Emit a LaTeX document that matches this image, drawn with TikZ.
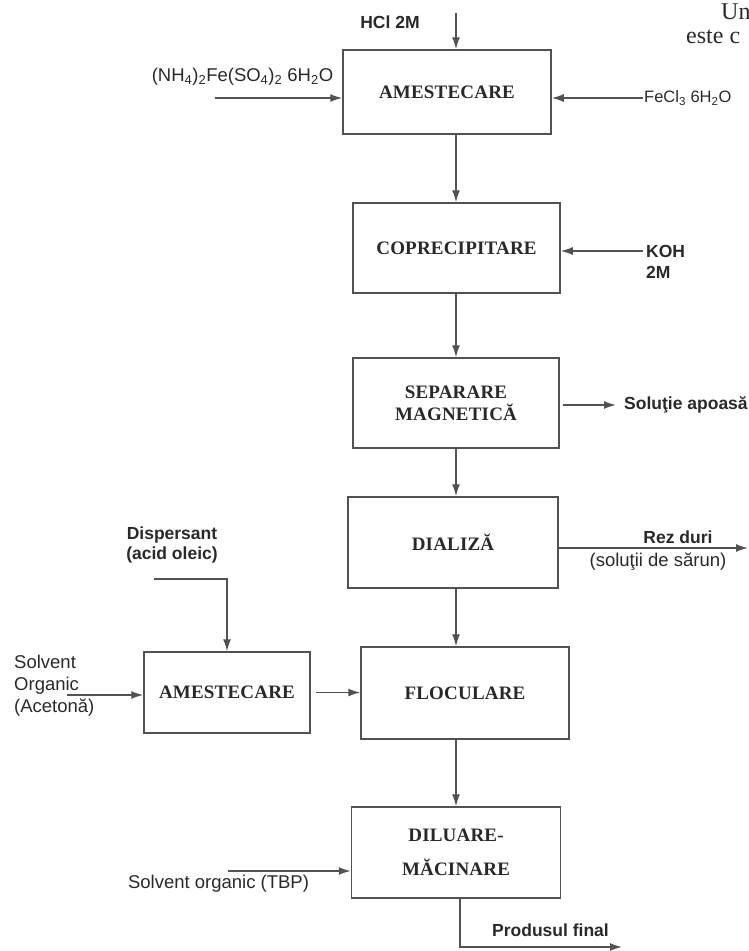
\documentclass[tikz,border=0pt]{standalone}
\usepackage{fontspec}
\setmainfont{Liberation Serif}
\setsansfont{Liberation Sans}
\newfontfamily\boxfont{Liberation Serif}[LetterSpace=1]
\usetikzlibrary{arrows.meta}
\definecolor{ink}{gray}{0.32}
\definecolor{txt}{gray}{0.16}
\tikzset{
  stage/.style={draw=ink,line width=1.5pt,fill=white,inner sep=0pt,align=center,text=txt,font=\fontsize{19}{22}\selectfont\boxfont\bfseries},
  lbl/.style={inner sep=1pt,text=txt,font=\fontsize{18.5}{22}\selectfont\sffamily},
  lblb/.style={inner sep=1pt,text=txt,font=\fontsize{17.5}{21}\selectfont\sffamily\bfseries},
  flow/.style={draw=ink,line width=1.4pt,-{Latex[length=12pt,width=8pt]}}
}

\begin{document}
\begin{tikzpicture}[x=1pt,y=-1pt]
      \useasboundingbox (0,0) rectangle (749,951);

      \node[stage,minimum width=208pt,minimum height=84pt] (mix) at (447,92) {AMESTECARE};
      \node[stage,minimum width=207pt,minimum height=90pt] (coprec) at (456.5,248) {COPRECIPITARE};
      \node[stage,minimum width=206pt,minimum height=90pt] (sep) at (456,403) {SEPARARE\\MAGNETICĂ};
      \node[stage,minimum width=210pt,minimum height=91pt] (dial) at (453,542.5) {DIALIZĂ};
      \node[stage,minimum width=166pt,minimum height=81pt] (premix) at (227,692.5) {AMESTECARE};
      \node[stage,minimum width=208pt,minimum height=92pt] (floc) at (465,693) {FLOCULARE};
      \node[stage,minimum width=209pt,minimum height=91pt] (dil) at (456,852.5) {DILUARE-\\[12pt]MĂCINARE};

      \node[lblb] (hcl) at (390,22) {HCl 2M};
      \node[lbl] (nhfe) at (242.5,77) {(NH\textsubscript{4})\textsubscript{2}Fe(SO\textsubscript{4})\textsubscript{2} 6H\textsubscript{2}O};
      \node[lbl,anchor=west,font=\fontsize{16.5}{20}\selectfont\sffamily] (fecl) at (643,98) {FeCl\textsubscript{3} 6H\textsubscript{2}O};
      \node[lblb,anchor=west,align=left] (koh) at (645,262) {KOH\\2M};
      \node[lblb,anchor=west] (sol) at (623,405) {Soluţie apoasă};
      \node[lblb] (rez) at (678,537) {Rez duri};
      \node[lbl] (rezb) at (658,562) {(soluţii de sărun)};
      \node[lblb,align=center,font=\fontsize{17.5}{20}\selectfont\sffamily\bfseries] (disp) at (172,545) {Dispersant\\(acid oleic)};
      \node[lbl,anchor=west,align=left] (solv) at (13,686) {Solvent\\Organic\\(Acetonă)};
      \node[lbl] (tbp) at (218.5,884) {Solvent organic (TBP)};
      \node[lblb] (prod) at (550.5,930) {Produsul final};
      \node[anchor=base west,inner sep=0pt,text=txt,font=\fontsize{24}{28}\selectfont] (un) at (721,19) {Un};
      \node[anchor=base west,inner sep=0pt,text=txt,font=\fontsize{24}{28}\selectfont] (este) at (686,43) {este c};

      \coordinate (hclin) at (456,13);
      \coordinate (nhin) at (215,98);
      \coordinate (kohin) at (643,251);
      \coordinate (rezout) at (748,548);
      \coordinate (dispin) at (154,579);
      \coordinate (acin) at (67,695);
      \coordinate (tbpin) at (228,871);
      \coordinate (prodout) at (622,947);

      \draw[flow] (hclin) -- (hclin |- mix.north);
      \draw[flow] (nhin) -- (nhin -| mix.west);
      \draw[flow] (fecl.west) -- (fecl.west -| mix.east);
      \draw[flow] (mix.south -| sep) -- (coprec.north -| sep);
      \draw[flow] (kohin) -- (kohin -| coprec.east);
      \draw[flow] (coprec.south -| sep) -- (sep.north);
      \draw[flow,shorten <=3pt,shorten >=7pt] (sep.east |- sol) -- (sol.west);
      \draw[flow] (sep.south) -- (dial.north -| sep);
      \draw[flow] (rezout -| dial.east) -- (rezout);
      \draw[flow] (dial.south -| sep) -- (floc.north -| sep);
      \draw[flow] (dispin) -| (premix.north);
      \draw[flow] (acin) -- (acin -| premix.west);
      \draw[flow,shorten <=5pt] (premix.east) -- (premix.east -| floc.west);
      \draw[flow] (floc.south -| dil) -- (dil.north);
      \draw[flow] (tbpin) -- (tbpin -| dil.west);
      \draw[flow] ([xshift=4pt]dil.south) |- (prodout);
\end{tikzpicture}
\end{document}
